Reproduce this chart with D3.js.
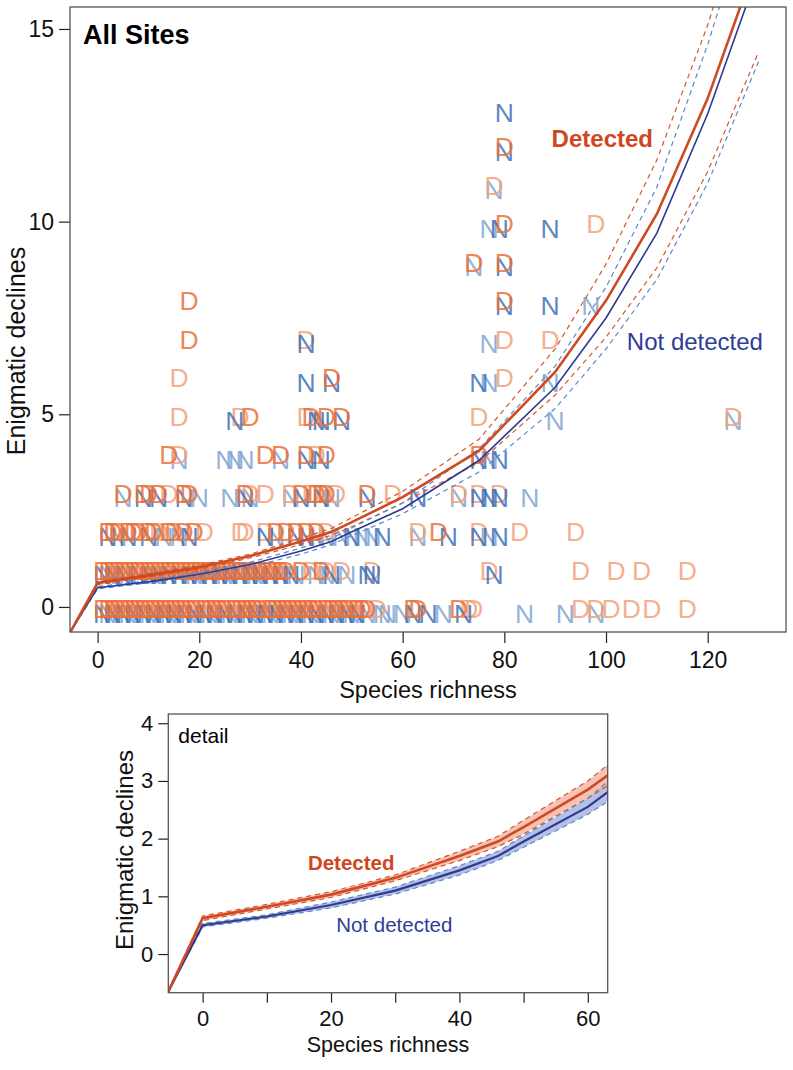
<!DOCTYPE html>
<html><head><meta charset="utf-8">
<script src="https://cdn.jsdelivr.net/npm/d3@7/dist/d3.min.js"></script>
<style>body{margin:0;background:#fff}svg{display:block;font-family:"Liberation Sans",Arial,sans-serif}</style>
</head><body><svg id="c" width="793" height="1070"></svg>
<script>
// ---- fitted curves (knots along species richness) ----
const knotX    = [-5.4, 0, 10, 20, 30, 40, 46, 50, 60, 75, 90, 100, 110, 120, 130];
const detMean  = [-0.66, 0.62, 0.82, 1.03, 1.32, 1.70, 1.95, 2.20, 2.85, 4.05, 6.10, 7.95, 10.2, 13.2, 16.9];
const detLower = [-0.66, 0.58, 0.78, 0.98, 1.27, 1.62, 1.86, 2.08, 2.70, 3.75, 5.50, 7.00, 8.80, 11.3, 14.4];
const detUpper = [-0.66, 0.66, 0.86, 1.08, 1.37, 1.78, 2.04, 2.32, 3.00, 4.35, 6.70, 8.90, 11.6, 15.1, 19.4];
const ndMean   = [-0.66, 0.50, 0.65, 0.85, 1.10, 1.45, 1.70, 1.95, 2.55, 3.80, 5.70, 7.50, 9.70, 12.8, 16.5];
const ndLower  = [-0.66, 0.47, 0.62, 0.80, 1.04, 1.37, 1.62, 1.85, 2.42, 3.50, 5.15, 6.70, 8.50, 11.0, 14.15];
const ndUpper  = [-0.66, 0.53, 0.68, 0.90, 1.16, 1.53, 1.78, 2.05, 2.70, 4.10, 6.25, 8.30, 10.9, 14.6, 18.8];

// ---- site points: [species richness, enigmatic declines] ----
const detDark = [
 [80,12],[80,10],[74,9],[80,9],[80,8],[18,8],[18,7],[46,6],
 [30,5],[42,5],[45,5],[48,5],
 [14,4],[33,4],[36,4],[41,4],[45,4],[75,4],
 [5,3],[9,3],[10,3],[12,3],[17,3],[18,3],[29,3],[40,3],[43,3],[44,3],[45,3],[53,3],
 [2,2],[3,2],[4,2],[6,2],[7,2],[8,2],[10,2],[11,2],[14,2],[15,2],[17,2],[19,2],[35,2],[37,2],[39,2],[41,2],[43,2],[67,2],
 [1,1],[2,1],[3,1],[4,1],[5,1],[6,1],[7,1],[8,1],[9,1],[10,1],[11,1],[12,1],[13,1],[14,1],[15,1],[16,1],[17,1],[18,1],[19,1],
 [20,1],[21,1],[22,1],[23,1],[24,1],[25,1],[26,1],[27,1],[28,1],[29,1],[30,1],[31,1],[32,1],[33,1],[34,1],[35,1],[36,1],[37,1],[40,1],[44,1],
 [1,0],[2,0],[3,0],[4,0],[5,0],[6,0],[7,0],[8,0],[9,0],[10,0],[11,0],[12,0],[13,0],[14,0],[15,0],[16,0],[17,0],[18,0],[19,0],
 [21,0],[22,0],[23,0],[24,0],[25,0],[27,0],[28,0],[29,0],[30,0],[31,0],[32,0],[34,0],[35,0],[36,0],[37,0],[38,0],[39,0],[40,0],
 [41,0],[42,0],[43,0],[45,0],[46,0],[47,0],[48,0],[49,0],[51,0],[52,0],[53,0],[62,0],[63,0],[71,0]
];
const detLight = [
 [78,11],[98,10],[41,7],[80,7],[89,7],[16,6],[80,6],
 [16,5],[28,5],[41,5],[75,5],[125,5],
 [16,4],[43,4],
 [14,3],[30,3],[33,3],[38,3],[42,3],[47,3],[58,3],[71,3],[75,3],[79,3],
 [12,2],[21,2],[28,2],[29,2],[33,2],[45,2],[63,2],[75,2],[83,2],[94,2],
 [42,1],[45,1],[48,1],[54,1],[77,1],[95,1],[102,1],[107,1],[116,1],
 [20,0],[26,0],[33,0],[44,0],[50,0],[55,0],[73,0],[74,0],[95,0],[98,0],[101,0],[105,0],[109,0],[116,0]
];
const ndDark = [
 [80,13],[80,12],[79,10],[89,10],[80,9],[80,8],[89,8],[41,7],
 [41,6],[46,6],[75,6],
 [27,5],[43,5],[44,5],[48,5],
 [41,4],[44,4],[75,4],[79,4],
 [9,3],[12,3],[17,3],[29,3],[40,3],[44,3],[53,3],[63,3],[75,3],[77,3],[79,3],
 [2,2],[6,2],[10,2],[18,2],[33,2],[39,2],[41,2],[50,2],[56,2],[69,2],[75,2],[79,2],
 [1,1],[3,1],[5,1],[8,1],[10,1],[12,1],[14,1],[16,1],[18,1],[20,1],[22,1],[24,1],[26,1],[28,1],[30,1],[32,1],[34,1],[36,1],
 [38,1],[46,1],[53,1],[54,1],[78,1],
 [1,0],[3,0],[5,0],[7,0],[9,0],[11,0],[13,0],[15,0],[17,0],[19,0],[21,0],[23,0],[25,0],[27,0],[29,0],[31,0],[33,0],[35,0],
 [37,0],[39,0],[41,0],[43,0],[45,0],[47,0],[49,0],[51,0],[62,0],[65,0],[72,0]
];
const ndLight = [
 [78,11],[77,10],[74,9],[97,8],[77,7],[77,6],[89,6],[90,5],[125,5],
 [16,4],[25,4],[27,4],[29,4],[36,4],[77,4],
 [5,3],[20,3],[26,3],[30,3],[38,3],[46,3],[71,3],[85,3],
 [4,2],[13,2],[16,2],[35,2],[43,2],[45,2],[48,2],[52,2],[54,2],[63,2],[77,2],
 [2,1],[6,1],[11,1],[19,1],[25,1],[31,1],[39,1],[43,1],[45,1],[49,1],
 [2,0],[6,0],[10,0],[14,0],[18,0],[22,0],[26,0],[30,0],[34,0],[38,0],[42,0],[46,0],[50,0],[53,0],
 [56,0],[57,0],[60,0],[68,0],[84,0],[92,0],[98,0]
];

const mainXTicks = [0, 20, 40, 60, 80, 100, 120];
const mainYTicks = [0, 5, 10, 15];
const detXTicks = [0, 10, 20, 30, 40, 50, 60];
const detXLabels = [0, 20, 40, 60];
const detYTicks = [0, 1, 2, 3, 4];

const C = {
  dDark: "#ec7038", dLight: "#f2a27c", nDark: "#3c72b8", nLight: "#7da5d3",
  detLine: "#cf4a22", ndLine: "#2c3a92", detDash: "#d4572c", ndDash: "#5d88c8",
  detFill: "#f2a896", ndFill: "#9eabdb", detText: "#cf4620", ndText: "#2e3d96"
};

const svg = d3.select("#c");
const font = '"Liberation Sans",Arial,sans-serif';

function curvePts(ys){ return knotX.map((x,i)=>[x, ys[i]]); }

function panel(o){
  const g = svg.append("g");
  const x = d3.scaleLinear().domain(o.xd).range([o.l, o.r]);
  const y = d3.scaleLinear().domain(o.yd).range([o.b, o.t]);
  const id = "clip" + o.name;
  svg.append("clipPath").attr("id", id).append("rect")
    .attr("x", o.l).attr("y", o.t).attr("width", o.r - o.l).attr("height", o.b - o.t);
  const xa = d3.axisBottom(x).tickValues(o.xTicks).tickSize(o.tick).tickPadding(4)
     .tickFormat(d => o.xLabels.includes(d) ? d3.format("d")(d) : "");
  const ya = d3.axisLeft(y).tickValues(o.yTicks).tickSize(o.tick).tickPadding(5).tickFormat(d3.format("d"));
  const gx = g.append("g").attr("transform", `translate(0,${o.b})`).call(xa);
  const gy = g.append("g").attr("transform", `translate(${o.l},0)`).call(ya);
  [gx, gy].forEach(a => {
    a.select(".domain").remove();
    a.selectAll("line").attr("stroke", "#222").attr("stroke-width", 1.2);
    a.selectAll("text").attr("font-family", font).attr("font-size", o.tickFs).attr("fill", "#111");
  });
  gx.selectAll("text").attr("dy", "0.9em");
  return {g, x, y, clip: `url(#${id})`};
}

function drawCurves(p, fills, wDet, wNd){
  const line = d3.line().x(d => p.x(d[0])).y(d => p.y(d[1]));
  const cg = p.g.append("g").attr("clip-path", p.clip);
  if (fills){
    const area = d3.area().x((d,i)=>p.x(knotX[i])).y0(d=>p.y(d[0])).y1(d=>p.y(d[1]));
    cg.append("path").attr("d", area(ndLower.map((v,i)=>[v, ndUpper[i]])))
      .attr("fill", C.ndFill).attr("fill-opacity", 0.75);
    cg.append("path").attr("d", area(detLower.map((v,i)=>[v, detUpper[i]])))
      .attr("fill", C.detFill).attr("fill-opacity", 0.7);
  }
  [[detLower, C.detDash],[detUpper, C.detDash],[ndLower, C.ndDash],[ndUpper, C.ndDash]].forEach(([ys,col])=>{
    cg.append("path").attr("d", line(curvePts(ys))).attr("fill","none")
      .attr("stroke", col).attr("stroke-width", 1.2).attr("stroke-dasharray", "5,4");
  });
  cg.append("path").attr("d", line(curvePts(ndMean))).attr("fill","none")
    .attr("stroke", C.ndLine).attr("stroke-width", wNd);
  cg.append("path").attr("d", line(curvePts(detMean))).attr("fill","none")
    .attr("stroke", C.detLine).attr("stroke-width", wDet);
}

// ---------------- main panel ----------------
const M = panel({name:"main", l:70, r:786, t:7, b:632, xd:[-5.43,135.4], yd:[-0.65,15.57],
  xTicks: mainXTicks, xLabels: mainXTicks, yTicks: mainYTicks, tick: 11, tickFs: 23});

const LFS = 26.5;
const ptsG = M.g.append("g").attr("font-family", font).attr("font-size", LFS).attr("text-anchor","middle");
function letters(arr, ch, col, dy){
  ptsG.selectAll(null).data(arr).enter().append("text")
    .attr("x", d => M.x(d[0])).attr("y", d => M.y(d[1]) + dy)
    .attr("fill", col).attr("fill-opacity", 0.85).text(ch);
}
letters(ndLight, "N", C.nLight, 16);
letters(detLight, "D", C.dLight, 11.5);
letters(ndDark, "N", C.nDark, 16);
letters(detDark, "D", C.dDark, 11.5);

drawCurves(M, false, 2.6, 1.6);

M.g.append("rect").attr("x",70).attr("y",7).attr("width",716).attr("height",625)
  .attr("fill","none").attr("stroke","#555").attr("stroke-width",1.3);

M.g.append("text").attr("x",83).attr("y",44).attr("font-family",font).attr("font-weight","bold")
  .attr("font-size",27).attr("fill","#000").text("All Sites");
M.g.append("text").attr("x", M.x(89.3)).attr("y",146.5).attr("font-family",font).attr("font-weight","bold")
  .attr("font-size",24).attr("fill",C.detText).text("Detected");
M.g.append("text").attr("x", M.x(104.1)).attr("y",350).attr("font-family",font)
  .attr("font-size",24).attr("fill",C.ndText).text("Not detected");
M.g.append("text").attr("x",428).attr("y",698).attr("text-anchor","middle").attr("font-family",font)
  .attr("font-size",23.5).attr("fill","#111").text("Species richness");
M.g.append("text").attr("transform","translate(25,351) rotate(-90)").attr("text-anchor","middle")
  .attr("font-family",font).attr("font-size",25).attr("fill","#111").text("Enigmatic declines");

// ---------------- detail panel ----------------
const Dp = panel({name:"detail", l:168.3, r:607.7, t:714, b:992.7, xd:[-5.35,63.1], yd:[-0.67,4.16],
  xTicks: detXTicks, xLabels: detXLabels, yTicks: detYTicks, tick: 10, tickFs: 22});
drawCurves(Dp, true, 2.6, 2.2);
Dp.g.append("rect").attr("x",168.3).attr("y",714).attr("width",439.4).attr("height",278.7)
  .attr("fill","none").attr("stroke","#555").attr("stroke-width",1.3);
Dp.g.append("text").attr("x",178.3).attr("y",743).attr("font-family",font)
  .attr("font-size",21).attr("fill","#000").text("detail");
Dp.g.append("text").attr("x",Dp.x(16.4)).attr("y",870).attr("font-family",font).attr("font-weight","bold")
  .attr("font-size",20.5).attr("fill",C.detText).text("Detected");
Dp.g.append("text").attr("x",Dp.x(20.8)).attr("y",931.5).attr("font-family",font)
  .attr("font-size",20.5).attr("fill",C.ndText).text("Not detected");
Dp.g.append("text").attr("x",388).attr("y",1052).attr("text-anchor","middle").attr("font-family",font)
  .attr("font-size",21.5).attr("fill","#111").text("Species richness");
Dp.g.append("text").attr("transform","translate(133,850) rotate(-90)").attr("text-anchor","middle")
  .attr("font-family",font).attr("font-size",24).attr("fill","#111").text("Enigmatic declines");
</script></body></html>
